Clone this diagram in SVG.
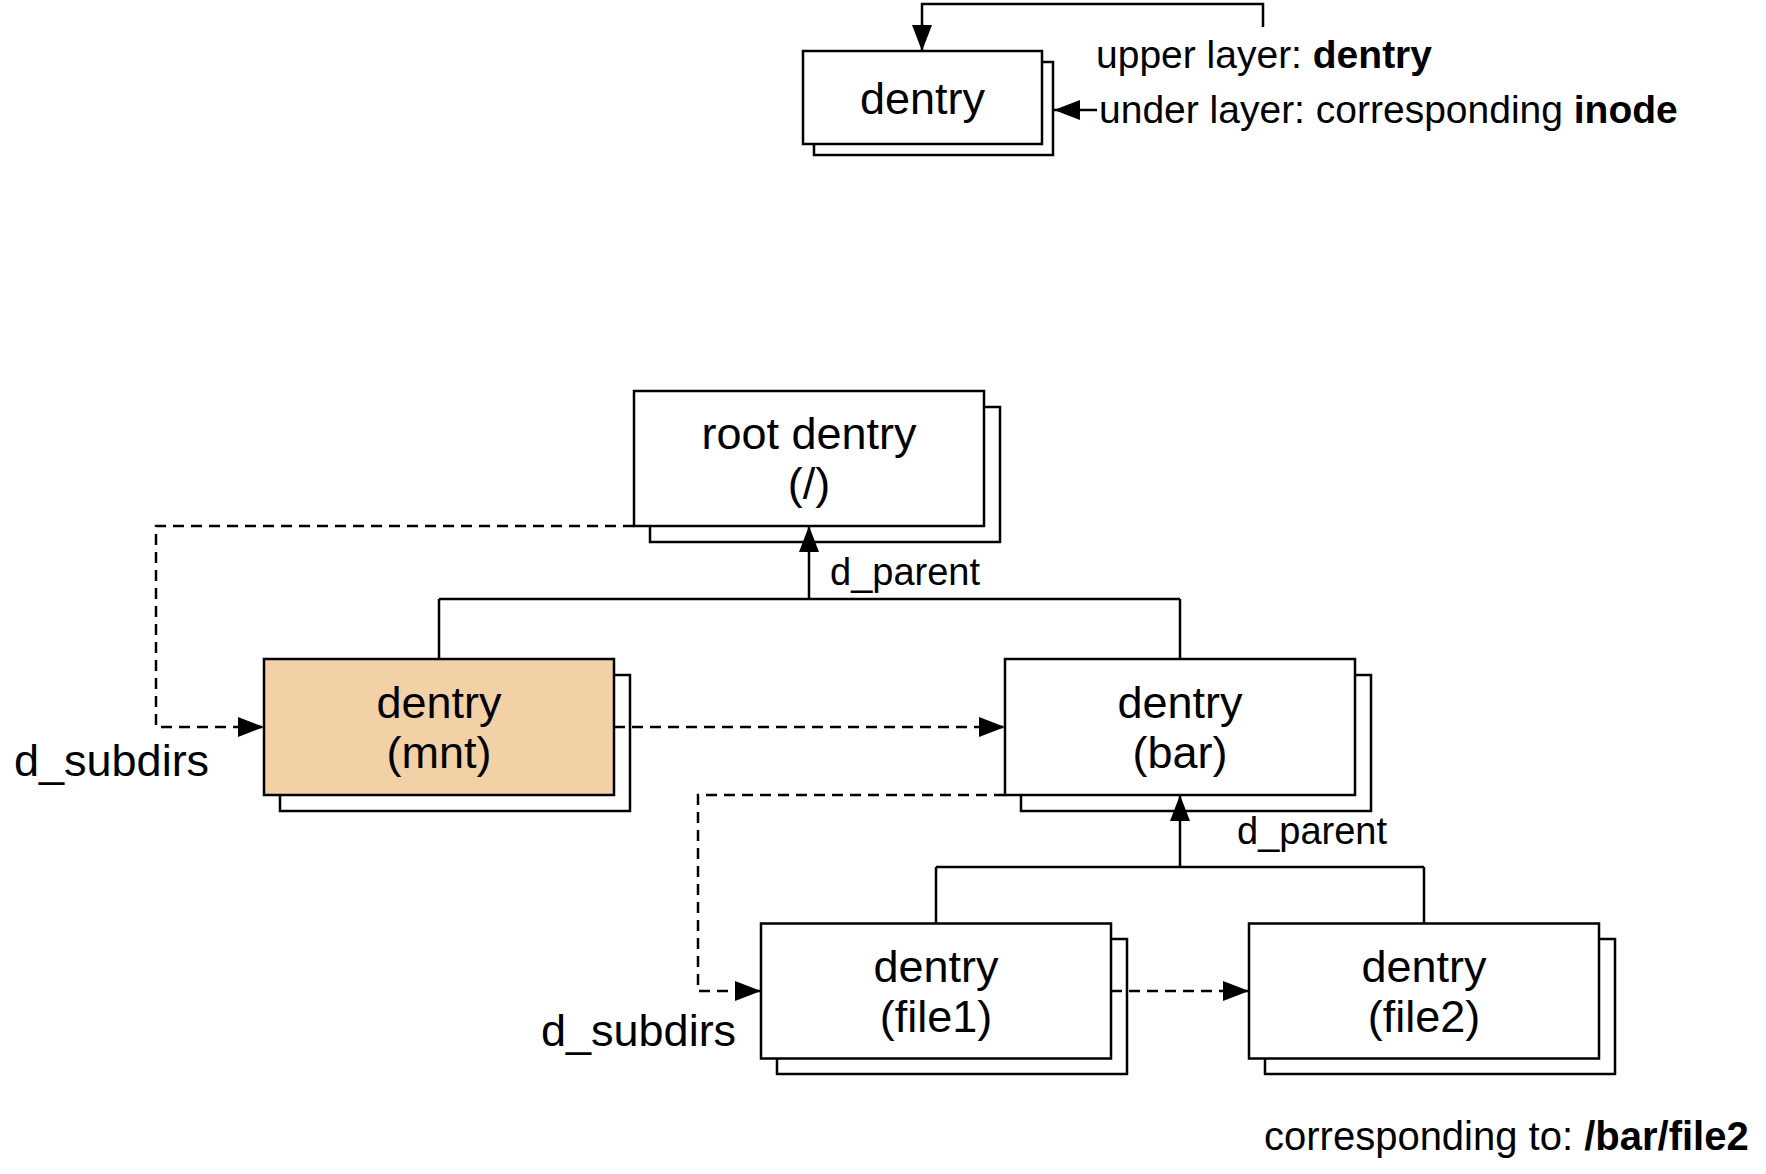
<svg xmlns="http://www.w3.org/2000/svg" width="1766" height="1174" viewBox="0 0 1766 1174">
<style>
.box{fill:#fff;stroke:#000;stroke-width:2.5}
.mnt{fill:#F2D1A6;stroke:#000;stroke-width:2.5}
.t{font-family:"Liberation Sans",Arial,Helvetica,sans-serif;fill:#000}
.bt{font-size:45px;text-anchor:middle}
.lbl{font-size:38px}
.top{font-size:39px}
.cor{font-size:40px}
.sub{font-size:45px}
.ln{fill:none;stroke:#000;stroke-width:2.5}
.dash{fill:none;stroke:#000;stroke-width:2.5;stroke-dasharray:11 7}
.b{font-weight:bold}
</style>
<defs>
<marker id="arr" markerUnits="userSpaceOnUse" markerWidth="26" markerHeight="20" refX="26" refY="10" orient="auto">
<path d="M0,0 L26,10 L0,20 z" fill="#000"/>
</marker>
</defs>
<rect width="1766" height="1174" fill="#fff"/>

<g id="legend">
<rect class="box" x="814" y="62" width="239" height="93"/>
<rect class="box" x="803" y="51" width="239" height="93"/>
<text class="t bt" x="922.5" y="114">dentry</text>
<text class="t top" x="1096" y="68">upper layer: <tspan class="b">dentry</tspan></text>
<text class="t top" x="1099" y="123">under layer: corresponding <tspan class="b">inode</tspan></text>
</g>

<g id="root">
<rect class="box" x="650" y="407" width="350" height="135"/>
<rect class="box" x="634" y="391" width="350" height="135"/>
<text class="t bt" x="809" y="449">root dentry</text>
<text class="t bt" x="809" y="499">(/)</text>
</g>

<g id="mnt">
<rect class="box" x="280" y="675" width="350" height="136"/>
<rect class="mnt" x="264" y="659" width="350" height="136"/>
<text class="t bt" x="439" y="718">dentry</text>
<text class="t bt" x="439" y="768">(mnt)</text>
</g>

<g id="bar">
<rect class="box" x="1021" y="675" width="350" height="136"/>
<rect class="box" x="1005" y="659" width="350" height="136"/>
<text class="t bt" x="1180" y="718">dentry</text>
<text class="t bt" x="1180" y="768">(bar)</text>
</g>

<g id="file1">
<rect class="box" x="777" y="939" width="350" height="135"/>
<rect class="box" x="761" y="923.5" width="350" height="135"/>
<text class="t bt" x="936" y="982">dentry</text>
<text class="t bt" x="936" y="1032">(file1)</text>
</g>

<g id="file2">
<rect class="box" x="1265" y="939" width="350" height="135"/>
<rect class="box" x="1249" y="923.5" width="350" height="135"/>
<text class="t bt" x="1424" y="982">dentry</text>
<text class="t bt" x="1424" y="1032">(file2)</text>
</g>

<g id="connectors">
<polyline class="ln" points="1263,27 1263,4 922,4 922,51" marker-end="url(#arr)"/>
<line class="ln" x1="1097" y1="110" x2="1054" y2="110" marker-end="url(#arr)"/>

<line class="ln" x1="439" y1="599" x2="1180" y2="599"/>
<line class="ln" x1="439" y1="599" x2="439" y2="659"/>
<line class="ln" x1="1180" y1="599" x2="1180" y2="659"/>
<line class="ln" x1="809" y1="599" x2="809" y2="526" marker-end="url(#arr)"/>

<line class="ln" x1="936" y1="867" x2="1424" y2="867"/>
<line class="ln" x1="936" y1="867" x2="936" y2="923.5"/>
<line class="ln" x1="1424" y1="867" x2="1424" y2="923.5"/>
<line class="ln" x1="1180" y1="867" x2="1180" y2="795" marker-end="url(#arr)"/>

<polyline class="dash" points="634,526 156,526 156,727 264,727" marker-end="url(#arr)"/>
<line class="dash" x1="614" y1="727" x2="1005" y2="727" marker-end="url(#arr)"/>
<polyline class="dash" points="1005,795 698,795 698,991 761,991" marker-end="url(#arr)"/>
<line class="dash" x1="1111" y1="991" x2="1249" y2="991" marker-end="url(#arr)"/>
</g>

<g id="labels">
<text class="t lbl" x="830" y="585">d_parent</text>
<text class="t lbl" x="1237" y="844">d_parent</text>
<text class="t sub" x="14" y="776">d_subdirs</text>
<text class="t sub" x="541" y="1046">d_subdirs</text>
<text class="t cor" x="1264" y="1150">corresponding to: <tspan class="b">/bar/file2</tspan></text>
</g>
</svg>
